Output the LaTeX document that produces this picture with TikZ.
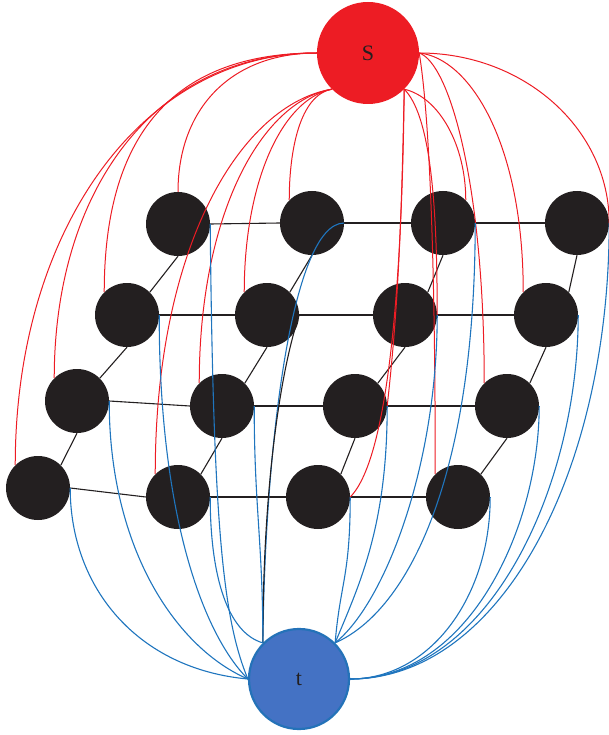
\documentclass[tikz,border=0pt]{standalone}
\usepackage{fontspec}
\setmainfont{Liberation Serif}
\definecolor{srcred}{RGB}{237,28,36}
\definecolor{nodeblack}{RGB}{35,31,32}
\definecolor{sinkfill}{RGB}{68,114,196}
\definecolor{sinkedge}{RGB}{36,114,184}
\definecolor{flowblue}{RGB}{31,117,190}
\begin{document}
\begin{tikzpicture}[x=1pt,y=1pt,
  vertex/.style={circle,fill=nodeblack,inner sep=0pt,minimum size=64pt},
  source/.style={circle,fill=srcred,inner sep=0pt,minimum size=102pt,font=\fontsize{22}{24}\selectfont,text=nodeblack},
  sink/.style={circle,fill=sinkfill,draw=sinkedge,line width=2.2pt,inner sep=0pt,minimum size=100pt,font=\fontsize{22}{24}\selectfont,text=nodeblack},
  grid/.style={draw=nodeblack,line width=1.1pt},
  redarc/.style={draw=srcred,line width=1pt},
  bluearc/.style={draw=flowblue,line width=1.1pt},
  blackarc/.style={draw=nodeblack,line width=1.1pt}]
\useasboundingbox (0,0) rectangle (609,-735);

% source and sink
\node[source] (s) at (368,-53) {S};
\node[sink] (t) at (299,-679) {t};

% lattice vertices: n<chain><row>
\node[vertex] (n11) at (178,-224) {};
\node[vertex] (n12) at (127,-315) {};
\node[vertex] (n13) at (77,-401) {};
\node[vertex] (n14) at (38,-488) {};
\node[vertex] (n21) at (312,-223) {};
\node[vertex] (n22) at (267,-315) {};
\node[vertex] (n23) at (222,-406) {};
\node[vertex] (n24) at (178,-497) {};
\node[vertex] (n31) at (443,-223) {};
\node[vertex] (n32) at (405,-315) {};
\node[vertex] (n33) at (355,-406) {};
\node[vertex] (n34) at (318,-497) {};
\node[vertex] (n41) at (577,-223) {};
\node[vertex] (n42) at (546,-315) {};
\node[vertex] (n43) at (507,-406) {};
\node[vertex] (n44) at (458,-497) {};

% horizontal lattice edges
\foreach \r in {1,2,3,4}{
  \draw[grid] (n1\r.east) -- (n2\r.west);
  \draw[grid] (n2\r.east) -- (n3\r.west);
  \draw[grid] (n3\r.east) -- (n4\r.west);
}
% slanted lattice edges
\foreach \c in {1,2,3,4}{
  \draw[grid] (n\c1.south) -- (n\c2.north east);
  \draw[grid] (n\c2.south) -- (n\c3.north east);
  \draw[grid] (n\c3.south) -- (n\c4.north east);
}

% source arcs, chain 1
\draw[redarc] (s.west) .. controls +(-87,0) and +(0,82) .. (n11.north);
\draw[redarc] (s.west) .. controls +(-150,0) and +(0,150) .. (n12.north west);
\draw[redarc] (s.west) .. controls +(-165,0) and +(0,185) .. (n13.north west);
\draw[redarc] (s.west) .. controls +(-175,0) and +(0,235) .. (n14.north west);
% source arcs, chain 2
\draw[redarc] (s.south west) .. controls +(-32,-6) and +(0,50) .. (n21.north west);
\draw[redarc] (s.south west) .. controls +(-50,-10) and +(0,110) .. (n22.north west);
\draw[redarc] (s.south west) .. controls +(-70,-12) and +(0,170) .. (n23.north west);
\draw[redarc] (s.south west) .. controls +(-90,-15) and +(0,230) .. (n24.north west);
% source arcs, chain 3
\draw[redarc] (s.south east) .. controls +(35,-8) and +(0,55) .. (n31.north east);
\draw[redarc] (s.south east) .. controls +(25,-25) and +(0,120) .. (n32.east);
\draw[redarc] (s.south east) .. controls +(-3,-150) and +(10,90) .. (n33.east);
\draw[redarc] (s.south east) .. controls +(-2,-180) and +(40,40) .. (n34.east);
% source arcs, chain 4
\draw[redarc] (s.east) .. controls +(105,0) and +(0,94) .. (n41.east);
\draw[redarc] (s.east) .. controls +(50,-5) and +(0,150) .. (n42.north west);
\draw[redarc] (s.east) .. controls +(30,-10) and +(0,200) .. (n43.north west);
\draw[redarc] (s.east) .. controls +(10,-60) and +(0,220) .. (n44.north west);

% sink arcs, chain 1
\draw[bluearc] (n11.east) .. controls +(3,-300) and +(-25,60) .. (t.west);
\draw[bluearc] (n12.east) .. controls +(0,-200) and +(-45,45) .. (t.west);
\draw[bluearc] (n13.east) .. controls +(0,-150) and +(-70,30) .. (t.west);
\draw[bluearc] (n14.east) .. controls +(0,-100) and +(-110,10) .. (t.west);
% sink arcs, chain 2
\draw[bluearc] (n21.east) .. controls +(-53,0) and +(2,193) .. (t.north west);
\draw[blackarc] (n22.east) .. controls +(-20,-60) and +(0,150) .. (t.north west);
\draw[bluearc] (n23.east) .. controls +(0,-100) and +(0,100) .. (t.north west);
\draw[bluearc] (n24.east) .. controls +(0,-80) and +(-35,10) .. (t.north west);
% sink arcs, chain 3
\draw[bluearc] (n31.east) .. controls +(0,-250) and +(75,33) .. (t.north east);
\draw[bluearc] (n32.east) .. controls +(0,-150) and +(50,40) .. (t.north east);
\draw[bluearc] (n33.east) .. controls +(0,-120) and +(25,60) .. (t.north east);
\draw[bluearc] (n34.east) .. controls +(0,-80) and +(5,60) .. (t.north east);
% sink arcs, chain 4
\draw[bluearc] (n41.east) .. controls +(0,-250) and +(150,0) .. (t.east);
\draw[bluearc] (n42.east) .. controls +(0,-170) and +(140,0) .. (t.east);
\draw[bluearc] (n43.east) .. controls +(0,-120) and +(120,0) .. (t.east);
\draw[bluearc] (n44.east) .. controls +(0,-100) and +(80,0) .. (t.east);
\end{tikzpicture}
\end{document}
